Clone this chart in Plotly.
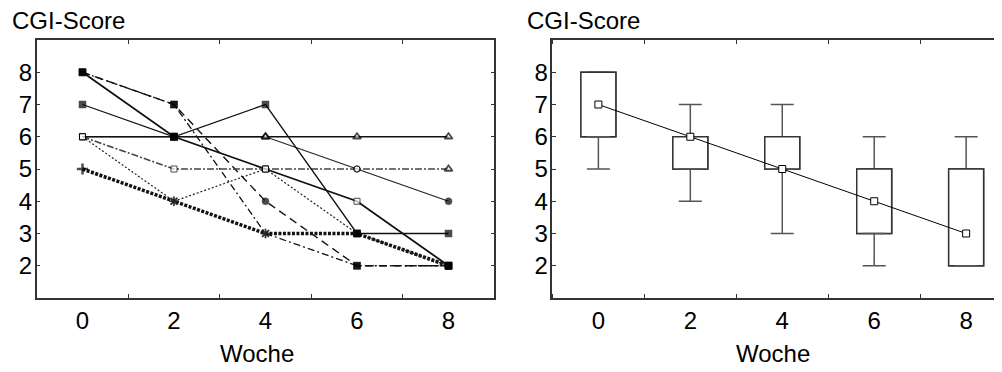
import plotly.graph_objects as go

# ---------------- data ----------------
weeks = [0, 2, 4, 6, 8]
week_labels = ["0", "2", "4", "6", "8"]
score_ticks = [2, 3, 4, 5, 6, 7, 8]
score_labels = ["2", "3", "4", "5", "6", "7", "8"]

patient_1 = [5, 4, 3, 3, 2]
patient_2 = [6, 4, 5, 3, 2]
patient_3 = [8, 7, 3, 2, 2]
patient_4 = [8, 7, 4, 2, 2]
patient_5 = [6, 5, 5, 5, 5]
patient_6 = [6, 6, 6, 5, 4]
patient_7 = [6, 6, 6, 6, 6]
patient_8 = [8, 6, 5, 4, 2]
patient_9 = [7, 6, 7, 3, 3]

box_min = [5, 4, 3, 2, 2]
box_q1 = [6, 5, 5, 3, 2]
box_median = [7, 6, 5, 4, 3]
box_q3 = [8, 6, 6, 5, 5]
box_max = [8, 7, 7, 6, 6]

title_text = "CGI-Score"
xaxis_text = "Woche"

# ---------------- styles ----------------
FONT = "Liberation Sans, Arial, sans-serif"
FS = 24
MK = {
    "sqf": ("square", "black", "black", 0.5, 7),
    "sqo": ("square", "white", "black", 1, 6),
    "cif": ("circle", "black", "black", 0.5, 7),
    "cio": ("circle", "white", "black", 1.2, 6),
    "tri": ("triangle-up", "white", "black", 1.8, 7),
    "star": ("asterisk-open", "#222", "#222", 1.6, 8),
    "plus": ("cross-thin-open", "black", "black", 2.5, 8),
}

series = [
    (patient_1, dict(color="#111", width=3.5, dash="3px,1.5px"), ["plus", "star", "star", "sqf", "sqf"]),
    (patient_2, dict(color="#222", width=1.2, dash="2px,2px"), ["sqo", "star", "sqo", "sqf", "sqf"]),
    (patient_3, dict(color="#111", width=1.3, dash="7px,3px,2px,3px"), ["sqf", "sqf", "star", "sqf", "sqf"]),
    (patient_4, dict(color="#111", width=1.4, dash="8px,5px"), ["sqf", "sqf", "cif", "sqf", "sqf"]),
    (patient_5, dict(color="#444", width=1.6, dash="7px,2px,2px,2px"), ["sqo", "sqo", "sqo", "cio", "tri"]),
    (patient_6, dict(color="#222", width=1.2, dash="solid"), ["sqo", "sqf", "tri", "cio", "cif"]),
    (patient_7, dict(color="#111", width=1.3, dash="solid"), ["sqo", "sqf", "tri", "tri", "tri"]),
    (patient_8, dict(color="#111", width=1.8, dash="solid"), ["sqf", "sqf", "sqo", "sqo", "sqf"]),
    (patient_9, dict(color="#111", width=1.3, dash="solid"), ["sqf", "sqf", "sqf", "sqf", "sqf"]),
]

fig = go.Figure()

for vals, line, marks in series:
    fig.add_trace(go.Scatter(
        x=weeks, y=vals, mode="lines+markers", line=line,
        marker=dict(
            symbol=[MK[m][0] for m in marks],
            color=[MK[m][1] for m in marks],
            line=dict(color=[MK[m][2] for m in marks], width=[MK[m][3] for m in marks]),
            size=[MK[m][4] for m in marks],
        ),
        xaxis="x", yaxis="y", hoverinfo="skip",
    ))

# ---- box plot (right) ----
upper_len = [q3 - q1 for q1, q3 in zip(box_q1, box_q3)]
lower_len = [q1 - q3 for q1, q3 in zip(box_q1, box_q3)]
whisk_up = [mx - q3 for mx, q3 in zip(box_max, box_q3)]
whisk_dn = [q1 - mn for q1, mn in zip(box_q1, box_min)]
zeros = [0] * len(weeks)

fig.add_trace(go.Bar(
    x=weeks, y=upper_len, base=box_q1, width=0.76,
    marker=dict(color="white", line=dict(color="#333", width=1.5)),
    error_y=dict(type="data", symmetric=False, array=whisk_up, arrayminus=zeros,
                 color="#555", thickness=1.5, width=11.5),
    xaxis="x2", yaxis="y2", hoverinfo="skip",
))
fig.add_trace(go.Bar(
    x=weeks, y=lower_len, base=box_q3, width=0.76,
    marker=dict(color="white", line=dict(color="#333", width=1.5)),
    error_y=dict(type="data", symmetric=False, array=zeros, arrayminus=whisk_dn,
                 color="#555", thickness=1.5, width=11.5),
    xaxis="x2", yaxis="y2", hoverinfo="skip",
))
fig.add_trace(go.Scatter(
    x=weeks, y=box_median, mode="lines+markers",
    line=dict(color="black", width=1),
    marker=dict(symbol="square", size=7, color="white", line=dict(color="black", width=1)),
    xaxis="x2", yaxis="y2", hoverinfo="skip",
))

axis_common = dict(
    showgrid=False, zeroline=False, showline=True, linecolor="#333", linewidth=1.5,
    tickfont=dict(family=FONT, size=FS, color="black"), automargin=False,
)
xcommon = dict(
    axis_common, tickvals=weeks, ticktext=week_labels, ticks="",
    minor=dict(tick0=1, dtick=2, ticks="inside", ticklen=4, tickcolor="#333", tickwidth=1),
    ticklabelstandoff=0,
)
ycommon = dict(
    axis_common, tickvals=score_ticks, ticktext=score_labels, ticks="inside",
    ticklen=4, tickcolor="#333", tickwidth=1, range=[1, 9], ticklabelstandoff=-2,
)

# The page body adds an 8px margin, so the figure is laid out 8px smaller.
fig.update_layout(
    width=994, height=364,
    margin=dict(l=0, r=0, t=32, b=74, autoexpand=False),
    paper_bgcolor="white", plot_bgcolor="white",
    showlegend=False, barmode="overlay",
    font=dict(family=FONT, size=FS, color="black"),
    xaxis=dict(xcommon, domain=[0.0289, 0.4892], range=[-1, 9], mirror="ticks", anchor="y"),
    yaxis=dict(ycommon, domain=[0, 1], mirror="ticks", anchor="x"),
    xaxis2=dict(xcommon, domain=[0.5477, 1.0], range=[-1, 8.78], mirror="ticks", anchor="y2"),
    yaxis2=dict(ycommon, domain=[0, 1], mirror=False, anchor="x2"),
    annotations=[
        dict(text=title_text, xref="paper", yref="paper", x=0.0017, y=1.0775,
             xanchor="left", yanchor="middle", showarrow=False,
             font=dict(family=FONT, size=FS, color="black")),
        dict(text=title_text, xref="paper", yref="paper", x=0.5198, y=1.0775,
             xanchor="left", yanchor="middle", showarrow=False,
             font=dict(family=FONT, size=FS, color="black")),
        dict(text=xaxis_text, xref="paper", yref="paper", x=0.2502, y=-0.217,
             xanchor="center", yanchor="middle", showarrow=False,
             font=dict(family=FONT, size=FS, color="black")),
        dict(text=xaxis_text, xref="paper", yref="paper", x=0.7696, y=-0.217,
             xanchor="center", yanchor="middle", showarrow=False,
             font=dict(family=FONT, size=FS, color="black")),
    ],
)

fig.write_html("out.html")
